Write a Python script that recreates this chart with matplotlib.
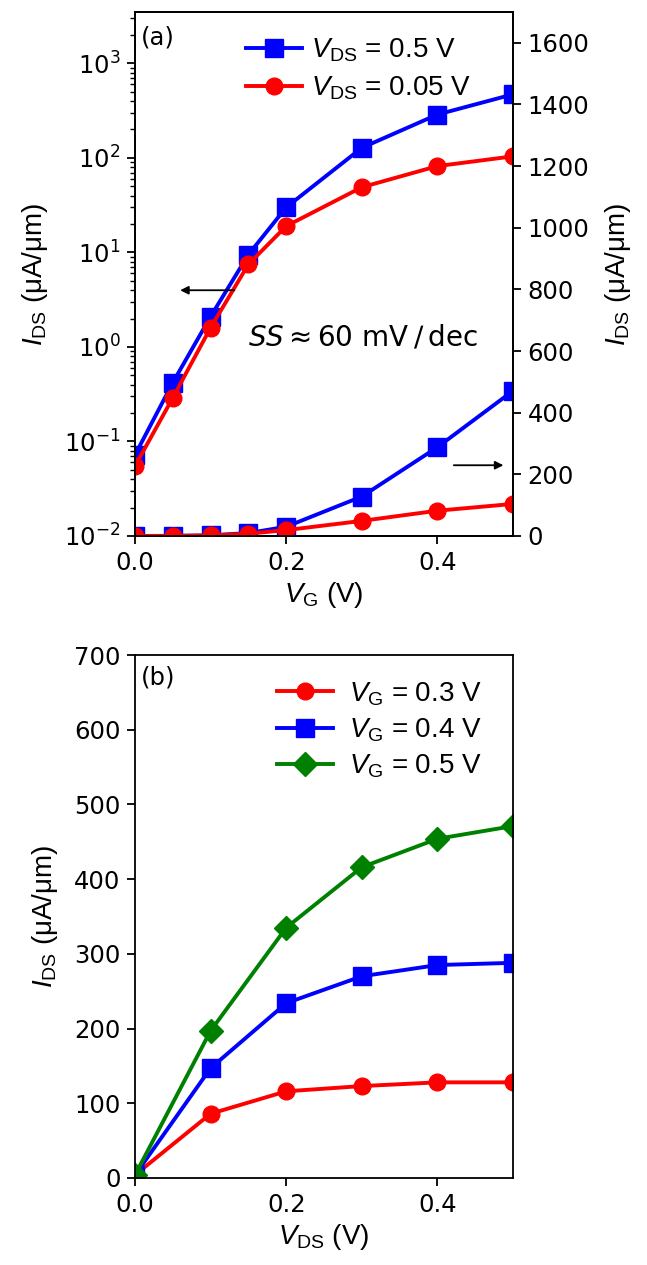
import numpy as np
import matplotlib
matplotlib.use("Agg")
import matplotlib.pyplot as plt

# ---- data (a): transfer curves ----
vg = [0.0, 0.05, 0.1, 0.15, 0.2, 0.3, 0.4, 0.5]
ids_vds_05 = [0.072, 0.42, 2.1, 9.5, 30, 128, 288, 471]
ids_vds_005 = [0.055, 0.29, 1.6, 7.5, 19, 49, 82, 104]

# ---- data (b): output curves ----
vds = [0.0, 0.1, 0.2, 0.3, 0.4, 0.5]
ids_vg_03 = [4, 86, 116, 123, 128, 128]
ids_vg_04 = [4, 147, 234, 270, 285, 288]
ids_vg_05 = [4, 197, 335, 416, 454, 471]

plt.rcParams['font.size'] = 17.5
plt.rcParams['font.family'] = ['DejaVu Sans']
# labels / legends use an Arial-like face, also for the math parts
plt.rcParams['mathtext.fontset'] = 'custom'
plt.rcParams['mathtext.rm'] = 'Liberation Sans'
plt.rcParams['mathtext.it'] = 'Liberation Sans:italic'
plt.rcParams['mathtext.bf'] = 'Liberation Sans:bold'
plt.rcParams['axes.linewidth'] = 1.3
for a in ('xtick', 'ytick'):
    plt.rcParams[a + '.major.size'] = 6
    plt.rcParams[a + '.major.width'] = 1.3
    plt.rcParams[a + '.minor.size'] = 3.5
    plt.rcParams[a + '.minor.width'] = 1.0
    plt.rcParams[a + '.major.pad'] = 4.5

LAB = dict(fontfamily='Liberation Sans', fontsize=20)
LEG = {'family': 'Liberation Sans', 'size': 20}

fig = plt.figure(figsize=(6.47, 12.65), dpi=100)

ylab = r'$I_{\mathrm{DS}}$ (μA/μm)'
lw = 2.8

# -------- panel (a) --------
ax1 = fig.add_axes([0.2087, 0.5763, 0.5842, 0.4142])
ax1.set_yscale('log')
ax1.plot(vg, ids_vds_05, 's-', color='blue', lw=lw, ms=13, label=r'$V_{\mathrm{DS}}$ = 0.5 V')
ax1.plot(vg, ids_vds_005, 'o-', color='red', lw=lw, ms=12, label=r'$V_{\mathrm{DS}}$ = 0.05 V')
ax1.set_xlim(0, 0.5)
ax1.set_ylim(1e-2, 3.5e3)
ax1.set_xticks([0.0, 0.2, 0.4])
ax1.set_ylabel(ylab, labelpad=10, **LAB)
ax1.set_xlabel(r'$V_{\mathrm{G}}$ (V)', **LAB)
ax1.legend(loc='upper right', frameon=False, prop=LEG, handlelength=2.0,
           borderaxespad=0, borderpad=0, labelspacing=0.37, handletextpad=0.35,
           bbox_to_anchor=(0.89, 0.953))
ax1.text(0.015, 0.975, '(a)', transform=ax1.transAxes, ha='left', va='top', fontsize=17.5)

ax2 = ax1.twinx()
ax2.plot(vg, ids_vds_05, 's-', color='blue', lw=lw, ms=13)
ax2.plot(vg, ids_vds_005, 'o-', color='red', lw=lw, ms=12)
ax2.set_ylim(0, 1700)
ax2.set_yticks(np.arange(0, 1601, 200))
ax2.set_ylabel(ylab, labelpad=10, **LAB)
ax2.set_xlim(0, 0.5)

ax1.text(0.603, 0.378, r'$SS \approx 60\ \mathrm{mV\slash dec}$', transform=ax1.transAxes,
         ha='center', va='center', fontsize=20, math_fontfamily='dejavusans')
ax1.annotate('', xy=(0.112, 0.469), xytext=(0.27, 0.469), xycoords='axes fraction',
             arrowprops=dict(arrowstyle='-|>', color='black', lw=1.3, mutation_scale=12))
ax1.annotate('', xy=(0.982, 0.135), xytext=(0.836, 0.135), xycoords='axes fraction',
             arrowprops=dict(arrowstyle='-|>', color='black', lw=1.3, mutation_scale=12))

# -------- panel (b) --------
ax3 = fig.add_axes([0.2087, 0.0688, 0.5842, 0.4134])
ax3.plot(vds, ids_vg_03, 'o-', color='red', lw=lw, ms=12, label=r'$V_{\mathrm{G}}$ = 0.3 V')
ax3.plot(vds, ids_vg_04, 's-', color='blue', lw=lw, ms=13, label=r'$V_{\mathrm{G}}$ = 0.4 V')
ax3.plot(vds, ids_vg_05, 'D-', color='green', lw=lw, ms=12.5, label=r'$V_{\mathrm{G}}$ = 0.5 V')
ax3.set_xlim(0, 0.5)
ax3.set_ylim(0, 700)
ax3.set_xticks([0.0, 0.2, 0.4])
ax3.set_ylabel(ylab, labelpad=10, **LAB)
ax3.set_xlabel(r'$V_{\mathrm{DS}}$ (V)', **LAB)
ax3.legend(loc='upper right', frameon=False, prop=LEG, handlelength=2.0,
           borderaxespad=0, borderpad=0, labelspacing=0.32, handletextpad=0.6,
           bbox_to_anchor=(0.918, 0.952))
ax3.text(0.015, 0.98, '(b)', transform=ax3.transAxes, ha='left', va='top', fontsize=17.5)

fig.savefig('out.png', dpi=100)
